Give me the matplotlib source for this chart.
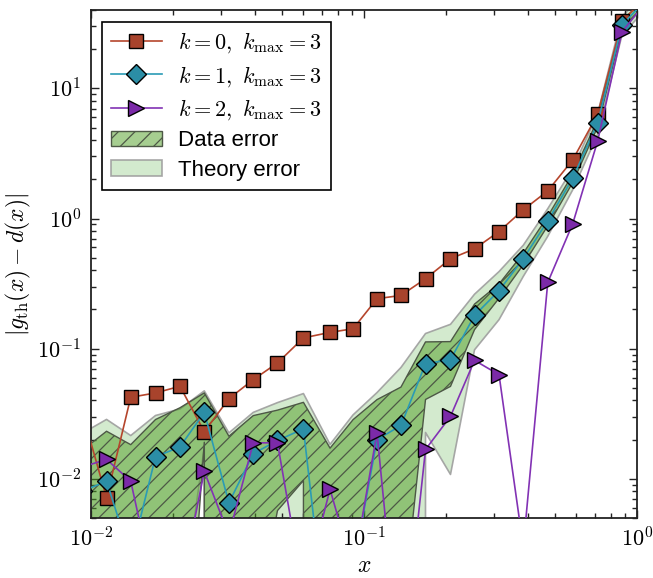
import numpy as np
import matplotlib
matplotlib.use('Agg')
import matplotlib.pyplot as plt
from matplotlib.ticker import FuncFormatter, NullFormatter, LogLocator
from matplotlib.patches import Patch

plt.rcParams['mathtext.fontset'] = 'cm'
plt.rcParams['font.family'] = ['Liberation Sans', 'DejaVu Sans']
plt.rcParams['hatch.color'] = '#4d5846'
plt.rcParams['hatch.linewidth'] = 0.9

# ---------------- data ----------------
x = [0.00927, 0.0114, 0.01398, 0.01723, 0.02118, 0.0260, 0.0320, 0.0393, 0.0482,
     0.0600, 0.0751, 0.0912, 0.1116, 0.1366, 0.1680, 0.2074, 0.2540, 0.3123,
     0.3832, 0.4711, 0.5814, 0.7178, 0.8810, 1.081]

k0 = [0.033, 0.00715, 0.0423, 0.0457, 0.0514, 0.0230, 0.0413, 0.0578, 0.0777,
      0.121, 0.1334, 0.1423, 0.242, 0.2565, 0.3445, 0.491, 0.585, 0.794,
      1.166, 1.63, 2.82, 6.33, 33.0, 50.0]

k1 = [0.0080, 0.0096, 0.0025, 0.01475, 0.0176, 0.0324, 0.00654, 0.0156, 0.0197,
      0.0242, 0.0004, 0.002, 0.020, 0.0257, 0.0767, 0.0823, 0.180, 0.279,
      0.491, 0.96, 2.04, 5.42, 30.7, 48.0]

k2 = [0.0123, 0.0141, 0.0096, 0.0013, 0.00135, 0.0114, 0.0037, 0.0189, 0.0189,
      0.00135, 0.0083, 0.002, 0.0225, 0.0003, 0.0168, 0.0302, 0.0813, 0.0631,
      0.003, 0.323, 0.911, 3.95, 27.2, 46.0]

data_err = [0.0085, 0.0136, 0.0158, 0.0138, 0.01755, 0.0133, 0.0147, 0.015, 0.014,
            0.0145, 0.0168, 0.0265, 0.0206, 0.025, 0.036, 0.031, 0.040, 0.035,
            0.05, 0.08, 0.15, 0.35, 2.0, 3.0]

theory_err = [0.0143, 0.019, 0.019, 0.0159, 0.0168, 0.015, 0.016, 0.0168, 0.0188,
              0.021, 0.018, 0.029, 0.026, 0.046, 0.054, 0.0715, 0.082, 0.112,
              0.132, 0.23, 0.38, 1.0, 5.0, 7.0]

labels = [r'$k=0,\ k_{\rm max}=3$', r'$k=1,\ k_{\rm max}=3$', r'$k=2,\ k_{\rm max}=3$']
band_labels = ['Data error', 'Theory error']

# ---------------- styles ----------------
red_line = '#b5452c'
red_fill = '#a8432c'
teal_line = '#2a9bb5'
teal_fill = '#2b8ea6'
purp_line = '#8232b4'
purp_fill = '#7b2aa8'

theory_face = (100/255, 180/255, 80/255, 0.28)
theory_edge = (0.62, 0.62, 0.62, 0.9)
data_face = (78/255, 158/255, 34/255, 0.5)
data_edge = '#4d5846'

fig = plt.figure(figsize=(6.53, 5.78), dpi=100)
ax = fig.add_axes([0.13936, 0.10381, 0.83614, 0.87889])
ax.set_xscale('log')
ax.set_yscale('log')

xa = np.array(x)
c = np.array(k1)
de = np.array(data_err)
te = np.array(theory_err)

ax.fill_between(xa, c - te, c + te, facecolor=theory_face, edgecolor=theory_edge,
                linewidth=1.2, zorder=1)
ax.fill_between(xa, c - de, c + de, facecolor=data_face, edgecolor=data_edge,
                hatch='//', linewidth=1.0, zorder=2)

l0, = ax.plot(x, k0, '-', color=red_line, lw=1.2, marker='s', ms=9.5,
              mfc=red_fill, mec='black', mew=1.0, zorder=3)
l1, = ax.plot(x, k1, '-', color=teal_line, lw=1.2, marker='D', ms=9.8,
              mfc=teal_fill, mec='black', mew=1.0, zorder=4)
l2, = ax.plot(x, k2, '-', color=purp_line, lw=1.2, marker='>', ms=12,
              mfc=purp_fill, mec='black', mew=1.0, zorder=5)

ax.set_xlim(0.01, 1.0)
ax.set_ylim(0.005, 40)

fmt = FuncFormatter(lambda v, p: r'$\mathrm{10^{%d}}$' % int(round(np.log10(v))))
ax.xaxis.set_major_locator(LogLocator(base=10, numticks=10))
ax.yaxis.set_major_locator(LogLocator(base=10, numticks=10))
ax.xaxis.set_major_formatter(fmt)
ax.yaxis.set_major_formatter(fmt)
ax.xaxis.set_minor_formatter(NullFormatter())
ax.yaxis.set_minor_formatter(NullFormatter())
ax.tick_params(which='both', direction='in', top=True, right=True, width=1.0,
               labelsize=16, color='#222222')
ax.tick_params(which='major', length=6, pad=7)
ax.tick_params(which='minor', length=3.5)
for s in ax.spines.values():
    s.set_linewidth(1.3)
    s.set_color('#222222')

ax.set_xlabel(r'$x$', fontsize=17, labelpad=2)
ax.set_ylabel(r'$|g_{\rm th}(x)-d(x)|$', fontsize=17, labelpad=0)
ax.yaxis.set_label_coords(-0.107, 0.5)

handles = [l0, l1, l2,
           Patch(facecolor=data_face, edgecolor=data_edge, hatch='//', linewidth=1.0),
           Patch(facecolor=theory_face, edgecolor=theory_edge, linewidth=1.2)]
leg = ax.legend(handles, labels + band_labels, loc='upper left',
                bbox_to_anchor=(0.0196, 0.977), borderaxespad=0, numpoints=1,
                fontsize=16, handlelength=2.3, handletextpad=0.75, labelspacing=0.38,
                borderpad=0.4, fancybox=False, framealpha=1, edgecolor='black')
leg.get_frame().set_linewidth(1.2)
leg.set_zorder(10)

fig.savefig('out.png', dpi=100)
